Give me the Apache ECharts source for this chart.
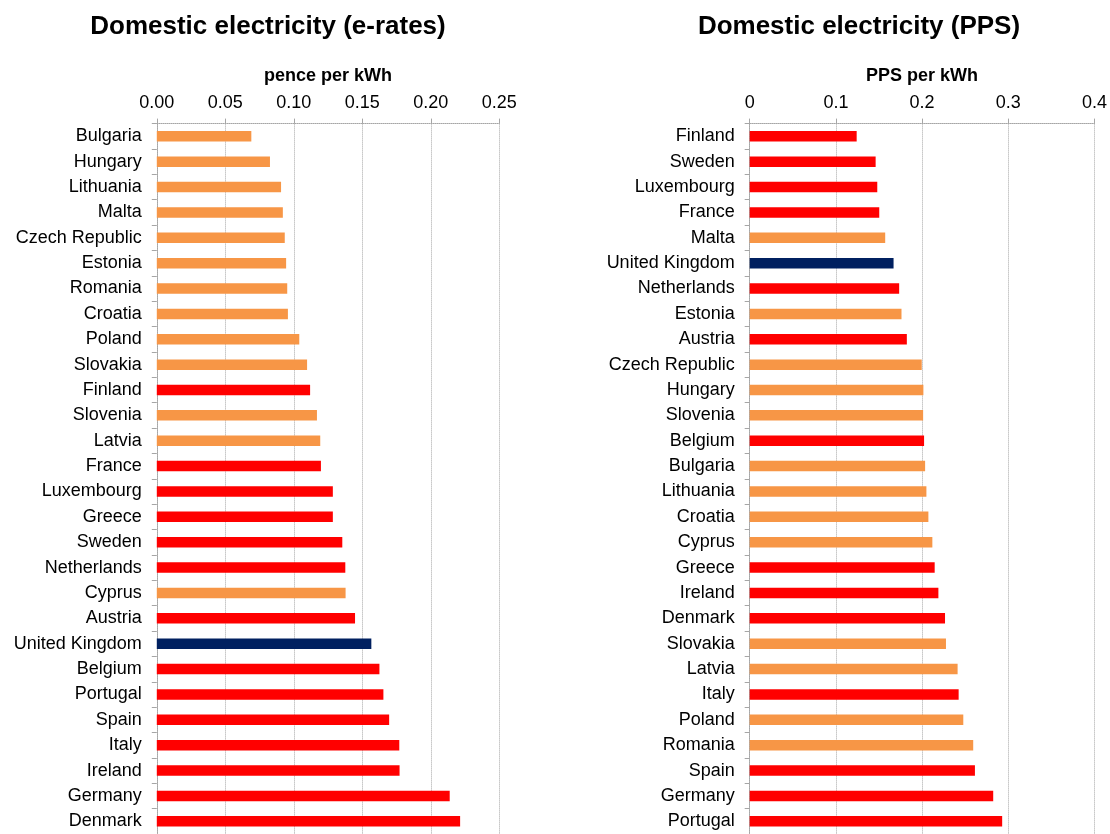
<!DOCTYPE html>
<html>
<head>
<meta charset="utf-8">
<script src="https://cdn.jsdelivr.net/npm/echarts@6/dist/echarts.min.js"></script>
<style>
html,body{margin:0;padding:0;background:#fff;}
#chart{width:1110px;height:834px;}
</style>
</head>
<body>
<div id="chart"></div>
<script>
// ---- Data ----
const titleLeft = 'Domestic electricity (e-rates)';
const titleRight = 'Domestic electricity (PPS)';
const axisNameLeft = 'pence per kWh';
const axisNameRight = 'PPS per kWh';

const countriesRates = ['Bulgaria','Hungary','Lithuania','Malta','Czech Republic','Estonia','Romania','Croatia','Poland','Slovakia','Finland','Slovenia','Latvia','France','Luxembourg','Greece','Sweden','Netherlands','Cyprus','Austria','United Kingdom','Belgium','Portugal','Spain','Italy','Ireland','Germany','Denmark'];
const valuesRates = [0.0690,0.0826,0.0907,0.0920,0.0934,0.0944,0.0952,0.0957,0.1040,0.1097,0.1119,0.1169,0.1193,0.1198,0.1285,0.1285,0.1354,0.1376,0.1378,0.1447,0.1566,0.1625,0.1654,0.1696,0.1770,0.1772,0.2138,0.2214];

const countriesPPS = ['Finland','Sweden','Luxembourg','France','Malta','United Kingdom','Netherlands','Estonia','Austria','Czech Republic','Hungary','Slovenia','Belgium','Bulgaria','Lithuania','Croatia','Cyprus','Greece','Ireland','Denmark','Slovakia','Latvia','Italy','Poland','Romania','Spain','Germany','Portugal'];
const valuesPPS = [0.1241,0.1461,0.1480,0.1503,0.1572,0.1669,0.1734,0.1761,0.1823,0.1996,0.2015,0.2012,0.2023,0.2035,0.2050,0.2073,0.2119,0.2146,0.2189,0.2266,0.2277,0.2412,0.2424,0.2478,0.2593,0.2613,0.2825,0.2929];

// Country groups
const newMemberStates = ['Bulgaria','Hungary','Lithuania','Malta','Czech Republic','Estonia','Romania','Croatia','Poland','Slovakia','Slovenia','Latvia','Cyprus'];
const highlightCountry = 'United Kingdom';

const ticksLeft = {min:0, max:0.25, interval:0.05};
const ticksRight = {min:0, max:0.4, interval:0.1};

// ---- Styles ----
const COLOR_NEW = '#F79646';
const COLOR_OLD = '#FF0000';
const COLOR_UK = '#002060';
const FONT = '"Liberation Sans", Arial, sans-serif';
const GRID_COLOR = '#a6a6a6';

function colorFor(name){
  if (name === highlightCountry) return COLOR_UK;
  return newMemberStates.indexOf(name) >= 0 ? COLOR_NEW : COLOR_OLD;
}
function barData(names, vals){
  return vals.map((v,i)=>({value:v, itemStyle:{color:colorFor(names[i])}}));
}
function xAxisCfg(gi, ticks, name, fmt){
  return {
    type:'value', gridIndex:gi, position:'top',
    min:ticks.min, max:ticks.max, interval:ticks.interval,
    name:name, nameLocation:'middle', nameGap:39,
    nameTextStyle:{fontFamily:FONT, fontSize:18, fontWeight:'bold', color:'#000'},
    axisLabel:{fontFamily:FONT, fontSize:18, color:'#000', margin:12, formatter:fmt},
    axisLine:{show:true, lineStyle:{color:GRID_COLOR, type:'dotted', width:1}},
    axisTick:{show:true, length:5, lineStyle:{color:GRID_COLOR, width:1}},
    splitLine:{show:true, lineStyle:{color:GRID_COLOR, type:'dotted', width:1}}
  };
}
function yAxisCfg(gi, names){
  return {
    type:'category', gridIndex:gi, inverse:true, data:names,
    axisLabel:{fontFamily:FONT, fontSize:18, color:'#000', margin:15},
    axisLine:{show:true, lineStyle:{color:GRID_COLOR, type:'dotted', width:1}},
    axisTick:{show:true, length:5, alignWithLabel:false, lineStyle:{color:GRID_COLOR, width:1}},
    splitLine:{show:false}
  };
}

const chart = echarts.init(document.getElementById('chart'), null, {renderer:'canvas'});
chart.setOption({
  animation:false,
  backgroundColor:'#fff',
  title:[
    {text:titleLeft, left:263, top:9, textAlign:'center',
     textStyle:{fontFamily:FONT, fontSize:26, fontWeight:'bold', color:'#000'}},
    {text:titleRight, left:854, top:9, textAlign:'center',
     textStyle:{fontFamily:FONT, fontSize:26, fontWeight:'bold', color:'#000'}}
  ],
  grid:[
    {left:156.8, width:342.5, top:123.6, height:712.3, containLabel:false},
    {left:749.7, width:346, top:123.6, height:712.3, containLabel:false}
  ],
  xAxis:[
    xAxisCfg(0, ticksLeft, axisNameLeft, v=>v.toFixed(2)),
    xAxisCfg(1, ticksRight, axisNameRight, v=> v===0 ? '0' : v.toFixed(1))
  ],
  yAxis:[
    yAxisCfg(0, countriesRates),
    yAxisCfg(1, countriesPPS)
  ],
  series:[
    {type:'bar', xAxisIndex:0, yAxisIndex:0, barWidth:10.5, data:barData(countriesRates, valuesRates)},
    {type:'bar', xAxisIndex:1, yAxisIndex:1, barWidth:10.5, data:barData(countriesPPS, valuesPPS)}
  ]
});
</script>
</body>
</html>
